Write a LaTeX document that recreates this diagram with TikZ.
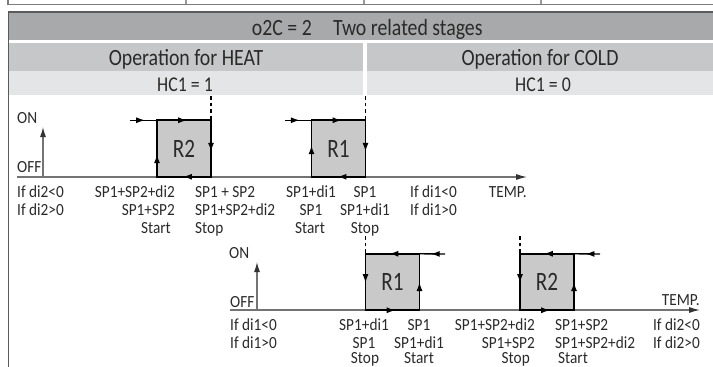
\documentclass[tikz,border=0pt]{standalone}
\usepackage{fontspec}
\setmainfont[FakeStretch=0.9]{Carlito}
\newfontfamily\hdrfont[FakeStretch=0.85]{Carlito}
\newfontfamily\boxfont[FakeStretch=0.8]{Carlito}
\usetikzlibrary{decorations.markings,arrows.meta}
\definecolor{hdr}{HTML}{A8A9AB}
\definecolor{rowa}{HTML}{C6C7C9}
\definecolor{rowb}{HTML}{E4E5E6}
\definecolor{boxfill}{HTML}{C9C9C9}
\definecolor{framegray}{HTML}{5A5A5A}
\definecolor{stripgray}{HTML}{9A9A9A}
\definecolor{txt}{HTML}{2A2A2A}
\tikzset{
  lab/.style={font=\fontsize{17}{18}\selectfont, inner sep=0pt, text=txt},
  hfont/.style={font=\hdrfont\fontsize{23.3}{25}\selectfont, inner sep=0pt, text=txt},
  hcfont/.style={font=\hdrfont\fontsize{21}{23}\selectfont, inner sep=0pt, text=txt},
  rbox/.style={draw=black, line width=1.7pt, fill=boxfill, minimum width=54pt,
    minimum height=56.5pt, inner sep=0pt, outer sep=0pt, text=txt,
    font=\boxfont\fontsize{26.5}{28}\selectfont},
  flowedge/.style={draw=black, line width=1.6pt, postaction={decorate},
    decoration={markings, mark=at position #1 with {\arrow{Latex[length=9pt,width=6pt]}}}},
  flowedge/.default=0.56,
  feed/.style={draw=black, line width=1.4pt, postaction={decorate},
    decoration={markings, mark=at position 0.56 with {\arrow{Latex[length=9pt,width=6pt]}}}},
  axisline/.style={draw=black!55, line width=1.1pt, -{Latex[length=10pt,width=6pt,black!80]}},
  templine/.style={draw=black!55, line width=1.1pt, -{Latex[length=11pt,width=6pt,black!80]}},
  dashline/.style={draw=black, line width=1.1pt, dash pattern=on 3.5pt off 3pt},
}
\begin{document}
\begin{tikzpicture}[x=1pt,y=-1pt]
\useasboundingbox (0,0) rectangle (713,367);
% top strip of preceding table
\draw[stripgray, line width=2pt] (186,0) -- (186,4) (364,0) -- (364,4) (541,0) -- (541,4);
\draw[framegray!80, line width=1.4pt] (8,0) -- (8,4.5) -- (713,4.5);
% header rows
\fill[hdr] (8,12) rectangle (713,40);
\fill[rowa] (9,43) rectangle (363,71);
\fill[rowa] (367,43) rectangle (713,71);
\fill[rowb] (9,71) rectangle (363,95);
\fill[rowb] (367,71) rectangle (713,95);
\draw[framegray, line width=1.3pt] (8.5,367) -- (8.5,12) -- (713,12);
\node[hfont, anchor=base east] (h1) at (312,35) {o2C = 2};
\node[hfont, anchor=base west] (h2) at (333,35) {Two related stages};
\node[hfont, anchor=base] (heat) at (186,65.5) {Operation for HEAT};
\node[hfont, anchor=base] (cold) at (540,65.5) {Operation for COLD};
\node[hcfont, anchor=base] (hc1) at (185,91) {HC1 = 1};
\node[hcfont, anchor=base] (hc0) at (543,91) {HC1 = 0};

% ---------- top graph (HEAT) ----------
\coordinate (tO) at (43,177);
\coordinate (tY) at (43,127);
\coordinate (tL) at (17,177);
\coordinate (tR) at (527,177);
\draw[templine] (tL) -- (tR);
\draw[axisline] (tO) -- (tY);
\node[lab, anchor=base west] (tON) at (17,123) {ON};
\node[lab, anchor=base west] (tOFF) at (17,172) {OFF};

\node[rbox] (R2t) at (184,148.5) {R2};
\node[rbox] (R1t) at (338.5,148.5) {R1};
\coordinate (in2t) at (130,120.25);
\coordinate (in1t) at (285,120.25);
\draw[feed] (in2t) -- (R2t.north west);
\draw[feed] (in1t) -- (R1t.north west);
\draw[flowedge=0.4] (R2t.south west) -- (R2t.north west);
\draw[flowedge=0.56] (R1t.south west) -- (R1t.north west);
\foreach \b in {R2t,R1t}{
  \draw[flowedge] (\b.north west) -- (\b.north east);
  \draw[flowedge] (\b.north east) -- (\b.south east);
  \draw[flowedge=0.52] (\b.south east) -- (\b.south west);
}
\coordinate (d2t) at (211,96);
\coordinate (d1t) at (365.5,96);
\draw[dashline] (d2t) -- (R2t.north east);
\draw[dashline] (d1t) -- (R1t.north east);

\node[lab, anchor=base west] (ta1) at (17,197) {If di2<0};
\node[lab, anchor=base west] (ta2) at (17,215) {If di2>0};
\node[lab, anchor=base east] (tb1) at (175,197) {SP1+SP2+di2};
\node[lab, anchor=base east] (tb2) at (175,215) {SP1+SP2};
\node[lab, anchor=base east] (tb3) at (171,233) {Start};
\node[lab, anchor=base west] (tc1) at (195,197) {SP1 + SP2};
\node[lab, anchor=base west] (tc2) at (195,215) {SP1+SP2+di2};
\node[lab, anchor=base west] (tc3) at (195,233) {Stop};
\node[lab, anchor=base] (td1) at (311,197) {SP1+di1};
\node[lab, anchor=base] (td2) at (311,215) {SP1};
\node[lab, anchor=base] (td3) at (310,233) {Start};
\node[lab, anchor=base] (te1) at (365,197) {SP1};
\node[lab, anchor=base] (te2) at (365,215) {SP1+di1};
\node[lab, anchor=base] (te3) at (365,233) {Stop};
\node[lab, anchor=base west] (tf1) at (410,197) {If di1<0};
\node[lab, anchor=base west] (tf2) at (410,215) {If di1>0};
\node[lab, anchor=base east] (ttemp) at (527,197) {TEMP.};

% ---------- bottom graph (COLD) ----------
\coordinate (bO) at (257,310);
\coordinate (bY) at (257,262);
\coordinate (bL) at (230,310);
\coordinate (bR) at (700,310);
\draw[templine] (bL) -- (bR);
\draw[axisline] (bO) -- (bY);
\node[lab, anchor=base west] (bON) at (229,258) {ON};
\node[lab, anchor=base west] (bOFF) at (230,307) {OFF};

\node[rbox] (R1b) at (392.5,282) {R1};
\node[rbox] (R2b) at (547,282) {R2};
\coordinate (in1b) at (445,254);
\coordinate (in2b) at (600,254);
\draw[feed] (in1b) -- (R1b.north east);
\draw[feed] (in2b) -- (R2b.north east);
\foreach \b in {R1b,R2b}{
  \draw[flowedge=0.52] (\b.north west) -- (\b.south west);
  \draw[flowedge] (\b.north east) -- (\b.north west);
  \draw[flowedge=0.5] (\b.south east) -- (\b.north east);
  \draw[flowedge] (\b.south west) -- (\b.south east);
}
\coordinate (d1b) at (365.5,236);
\coordinate (d2b) at (520,236);
\draw[dashline] (d1b) -- (R1b.north west);
\draw[dashline] (d2b) -- (R2b.north west);

\node[lab, anchor=base west] (ba1) at (230,330) {If di1<0};
\node[lab, anchor=base west] (ba2) at (230,348) {If di1>0};
\node[lab, anchor=base] (bb1) at (364,330) {SP1+di1};
\node[lab, anchor=base] (bb2) at (364,348) {SP1};
\node[lab, anchor=base] (bb3) at (365,363.5) {Stop};
\node[lab, anchor=base] (bc1) at (419,330) {SP1};
\node[lab, anchor=base] (bc2) at (419,348) {SP1+di1};
\node[lab, anchor=base] (bc3) at (419,363.5) {Start};
\node[lab, anchor=base east] (bd1) at (535,330) {SP1+SP2+di2};
\node[lab, anchor=base east] (bd2) at (535,348) {SP1+SP2};
\node[lab, anchor=base east] (bd3) at (530,363.5) {Stop};
\node[lab, anchor=base west] (be1) at (555,330) {SP1+SP2};
\node[lab, anchor=base west] (be2) at (555,348) {SP1+SP2+di2};
\node[lab, anchor=base west] (be3) at (558,363.5) {Start};
\node[lab, anchor=base east] (bf1) at (700,330) {If di2<0};
\node[lab, anchor=base east] (bf2) at (700,348) {If di2>0};
\node[lab, anchor=base east] (btemp) at (700,305) {TEMP.};
\end{tikzpicture}
\end{document}
